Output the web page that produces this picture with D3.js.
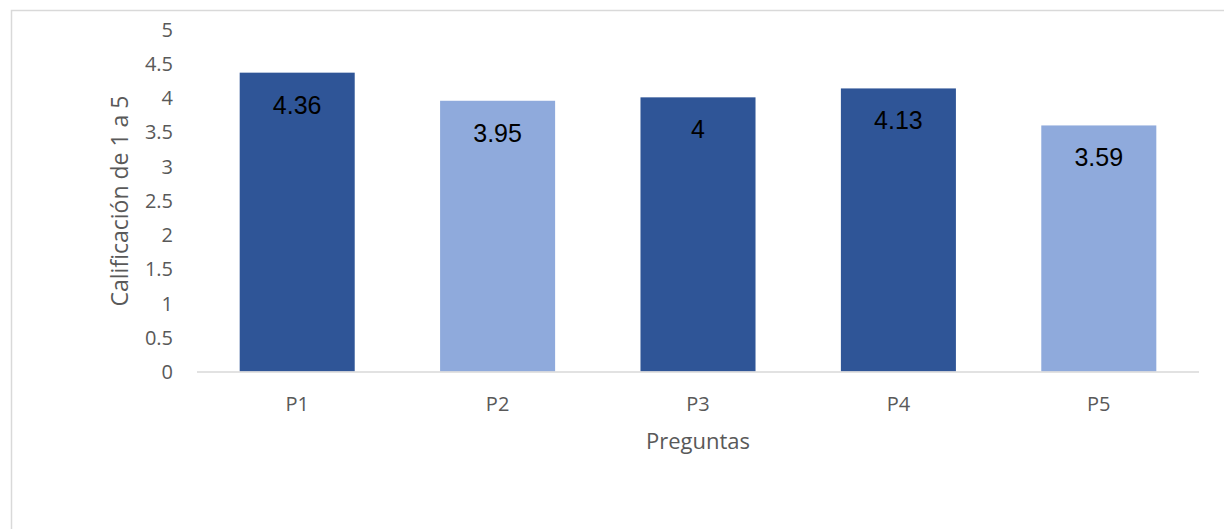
<!DOCTYPE html>
<html>
<head>
<meta charset="utf-8">
<script src="https://cdn.jsdelivr.net/npm/d3@7"></script>
<style>
  html, body { margin: 0; padding: 0; background: #fff; }
  svg { display: block; }
</style>
</head>
<body>
<svg id="chart" width="1224" height="529"></svg>
<script>
const categories = ["P1", "P2", "P3", "P4", "P5"];
const values = [4.36, 3.95, 4, 4.13, 3.59];
const barColors = ["#2F5597", "#8FAADC", "#2F5597", "#2F5597", "#8FAADC"];
const yTicks = [0, 0.5, 1, 1.5, 2, 2.5, 3, 3.5, 4, 4.5, 5];
const yTitle = "Calificación de 1 a 5";
const xTitle = "Preguntas";

const svg = d3.select("#chart");
const W = 1224, H = 529;

// chart border
svg.append("rect")
  .attr("x", 11.5).attr("y", 10.5)
  .attr("width", W + 20).attr("height", H + 20)
  .attr("fill", "none").attr("stroke", "#d9d9d9").attr("stroke-width", 1.5);

const plotLeft = 197, plotRight = 1199, plotTop = 28.8, plotBottom = 371.5;

const x = d3.scaleBand().domain(categories).range([plotLeft, plotRight]).paddingInner(0.426).paddingOuter(0.213);
const y = d3.scaleLinear().domain([0, 5]).range([plotBottom, plotTop]);

const font = "'Open Sans', sans-serif";

// bars
svg.append("g").selectAll("rect")
  .data(categories)
  .join("rect")
  .attr("x", d => x(d))
  .attr("y", (d, i) => y(values[i]))
  .attr("width", x.bandwidth())
  .attr("height", (d, i) => y(0) - y(values[i]))
  .attr("fill", (d, i) => barColors[i]);

// x axis baseline
svg.append("line")
  .attr("x1", plotLeft).attr("x2", plotRight)
  .attr("y1", y(0) + 0.5).attr("y2", y(0) + 0.5)
  .attr("stroke", "#d9d9d9").attr("stroke-width", 1.5);

// y axis (labels only)
const yAxis = d3.axisLeft(y).tickValues(yTicks).tickSize(0).tickPadding(0)
  .tickFormat(d => String(d));
const yg = svg.append("g").attr("transform", `translate(173,0)`).call(yAxis);
yg.select(".domain").remove();
yg.selectAll("text")
  .attr("font-family", font).attr("font-size", 20).attr("fill", "#595959")
  .attr("dy", "0.36em");

// x axis labels
const xAxis = d3.axisBottom(x).tickSize(0).tickPadding(0);
const xg = svg.append("g").attr("transform", `translate(0,${y(0)})`).call(xAxis);
xg.select(".domain").remove();
xg.selectAll("text")
  .attr("font-family", font).attr("font-size", 20).attr("fill", "#595959")
  .attr("y", 39).attr("dy", 0);

// data labels
svg.append("g").selectAll("text")
  .data(categories)
  .join("text")
  .attr("x", d => x(d) + x.bandwidth() / 2)
  .attr("y", (d, i) => y(values[i]) + 41)
  .attr("text-anchor", "middle")
  .attr("font-family", "'Liberation Sans', Arial, sans-serif")
  .attr("font-size", 25)
  .attr("fill", "#000")
  .text((d, i) => String(values[i]));

// axis titles
svg.append("text")
  .attr("transform", `translate(128,201) rotate(-90)`)
  .attr("text-anchor", "middle")
  .attr("font-family", font).attr("font-size", 23).attr("fill", "#595959")
  .text(yTitle);

svg.append("text")
  .attr("x", (plotLeft + plotRight) / 2).attr("y", 449)
  .attr("text-anchor", "middle")
  .attr("font-family", font).attr("font-size", 22).attr("fill", "#595959")
  .text(xTitle);
</script>
</body>
</html>
